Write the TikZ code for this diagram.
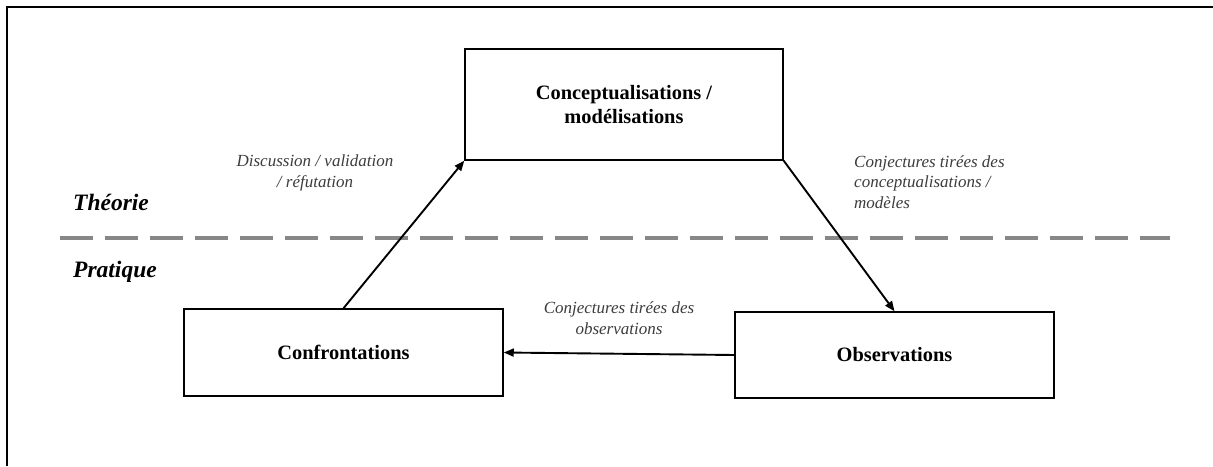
\documentclass[tikz,border=0pt]{standalone}
\usepackage{fontspec}
\setmainfont{Liberation Serif}
\usetikzlibrary{arrows.meta}
\definecolor{labelgray}{RGB}{60,60,60}
\definecolor{dashgray}{RGB}{135,135,135}
\tikzset{
  boxnode/.style={draw=black, line width=1.5pt, inner sep=0pt, align=center,
    font=\fontsize{20.4}{24.5}\selectfont\bfseries},
  arrowline/.style={line width=1.9pt, -{Triangle[length=10pt,width=8pt]}},
  edgelabel/.style={text=labelgray, inner sep=0pt,
    font=\fontsize{17}{20.5}\selectfont\itshape},
  zonelabel/.style={inner sep=0pt, anchor=base west,
    font=\fontsize{23.5}{28}\selectfont\bfseries\itshape},
}
\begin{document}
\begin{tikzpicture}[x=1pt,y=-1pt]
\useasboundingbox (0,0) rectangle (1213,466);
% outer frame (left and top)
\coordinate (fbl) at (7,466);
\coordinate (ftl) at (7,7);
\coordinate (ftr) at (1213,7);
\draw[line width=1.6pt] (fbl) -- (ftl) -- (ftr);
% dashed separation
\coordinate (dl) at (60,238);
\coordinate (dr) at (1170,238);
\draw[dashgray, line width=4.5pt, dash pattern=on 33pt off 12pt] (dl) -- (dr);
% zone labels
\node[zonelabel] (theo) at (73,210.5) {Théorie};
\node[zonelabel] (prat) at (73,277) {Pratique};
% boxes
\node[boxnode, minimum width=318pt, minimum height=111pt] (conc) at (624,104.5)
  {Conceptualisations /\\modélisations};
\node[boxnode, minimum width=319pt, minimum height=87pt] (conf) at (343.5,352.5)
  {Confrontations};
\node[boxnode, minimum width=319pt, minimum height=86pt] (obs) at (894.5,355)
  {Observations};
% arrows
\draw[arrowline] (conf.north) -- (conc.south west);
\draw[arrowline] (conc.south east) -- (obs.north);
\draw[arrowline] (obs.west) -- (conf.east);
% edge labels
\node[edgelabel, align=center] (l1) at (315,173) {Discussion / validation\\/ réfutation};
\node[edgelabel, align=left, anchor=west] (l2) at (854,182) {Conjectures tirées des\\conceptualisations /\\modèles};
\node[edgelabel, align=center] (l3) at (619,318) {Conjectures tirées des\\observations};
\end{tikzpicture}
\end{document}
